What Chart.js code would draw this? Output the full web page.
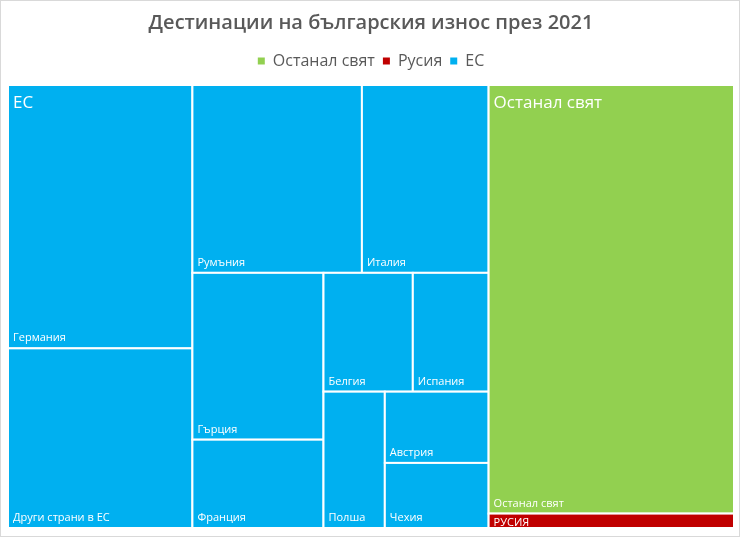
<!DOCTYPE html>
<html>
<head>
<meta charset="utf-8">
<script src="https://cdn.jsdelivr.net/npm/chart.js@4.4.1/dist/chart.umd.min.js"></script>
<style>
  html, body { margin: 0; padding: 0; background: #fff; }
  #wrap { width: 742px; height: 538px; }
</style>
</head>
<body>
<div id="wrap"><canvas id="treemap"></canvas></div>
<script>
// legend order as in the original chart
const groupNames = ['Останал свят', 'Русия', 'ЕС'];

// shares of Bulgarian exports 2021, %
const euCountries = ['Германия', 'Други страни в ЕС', 'Румъния', 'Италия', 'Гърция', 'Франция',
  'Белгия', 'Испания', 'Полша', 'Австрия', 'Чехия'];
const euValues = [15.1, 10.3, 9.9, 7.4, 6.8, 3.6, 3.3, 2.8, 2.6, 2.3, 2.1];
const restCountries = ['Останал свят'];
const restValues = [32.7];
const russiaCountries = ['РУСИЯ'];
const russiaValues = [1.1];

// how many items go into each strip of the squarified layout
const topStrips = [1, 1, 1];
const euStrips = [2, 2, 2, 2, 1, 1, 1];

const colors = { 'Останал свят': '#92D050', 'Русия': '#C00000', 'ЕС': '#00B0F0' };
const textGrey = '#595959';
const font = "'Open Sans', 'DejaVu Sans', sans-serif";

const sum = arr => arr.reduce((a, b) => a + b, 0);

// strips laid along the shorter side of what is left, sizes from the values
function layout(values, strips, rect, pxX, pxY) {
  let { x, y, w, h } = rect;
  let left = sum(values);
  const out = [];
  let i = 0;
  for (const n of strips) {
    const part = values.slice(i, i + n);
    const s = sum(part);
    if (w * pxX >= h * pxY) {
      const cw = w * s / left;
      let cy = y;
      part.forEach(v => { const ch = h * v / s; out.push({ x, y: cy, w: cw, h: ch }); cy += ch; });
      x += cw; w -= cw;
    } else {
      const rh = h * s / left;
      let cx = x;
      part.forEach(v => { const rw = w * v / s; out.push({ x: cx, y, w: rw, h: rh }); cx += rw; });
      y += rh; h -= rh;
    }
    left -= s;
    i += n;
  }
  return out;
}

const chartBorder = {
  id: 'chartBorder',
  beforeDraw(chart) {
    const ctx = chart.ctx;
    ctx.save();
    ctx.strokeStyle = '#D9D9D9';
    ctx.lineWidth = 1;
    ctx.strokeRect(0.5, 0.5, 739, 536);
    ctx.restore();
  }
};

const treemapPlugin = {
  id: 'treemapCells',
  afterDatasetsDraw(chart) {
    const { ctx, chartArea: area } = chart;
    const xs = chart.scales.x, ys = chart.scales.y;
    const pxX = area.width / 100, pxY = area.height / 100;

    const groups = [
      { name: 'ЕС', labels: euCountries, values: euValues, strips: euStrips },
      { name: 'Останал свят', labels: restCountries, values: restValues, strips: [1] },
      { name: 'Русия', labels: russiaCountries, values: russiaValues, strips: [1] }
    ];
    const groupRects = layout(groups.map(g => sum(g.values)), topStrips, { x: 0, y: 0, w: 100, h: 100 }, pxX, pxY);

    const toPx = r => {
      const l = xs.getPixelForValue(r.x), rr = xs.getPixelForValue(r.x + r.w);
      const t = ys.getPixelForValue(r.y), b = ys.getPixelForValue(r.y + r.h);
      return { l, t, w: rr - l, h: b - t };
    };

    ctx.save();
    groups.forEach((g, gi) => {
      const cells = layout(g.values, g.strips, groupRects[gi], pxX, pxY);
      cells.forEach((c, ci) => {
        const p = toPx(c);
        ctx.fillStyle = colors[g.name];
        ctx.fillRect(p.l, p.t, p.w, p.h);
        ctx.strokeStyle = '#FFFFFF';
        ctx.lineWidth = 2;
        ctx.strokeRect(p.l, p.t, p.w, p.h);

        // leaf label: bottom-left, or top-left when the cell is too flat
        ctx.save();
        ctx.beginPath();
        ctx.rect(p.l + 1, p.t + 1, p.w - 2, p.h - 2);
        ctx.clip();
        ctx.fillStyle = '#FFFFFF';
        ctx.font = '11px ' + font;
        ctx.textBaseline = 'alphabetic';
        ctx.textAlign = 'left';
        const ty = p.h < 24 ? p.t + 12 : p.t + p.h - 7;
        ctx.fillText(g.labels[ci], p.l + 5, ty);
        ctx.restore();
      });

      const gp = toPx(groupRects[gi]);
      if (gp.h > 40) {
        ctx.fillStyle = '#FFFFFF';
        ctx.font = '17px ' + font;
        ctx.textBaseline = 'alphabetic';
        ctx.textAlign = 'left';
        ctx.fillText(g.name, gp.l + 5, gp.t + 23);
      }
    });
    ctx.restore();
  }
};

new Chart(document.getElementById('treemap'), {
  type: 'scatter',
  data: {
    datasets: groupNames.map(name => ({
      label: name,
      data: [],
      backgroundColor: colors[name],
      borderColor: colors[name],
      borderWidth: 0
    }))
  },
  options: {
    responsive: true,
    maintainAspectRatio: false,
    animation: false,
    layout: { padding: { left: 8, right: 8, top: 0, bottom: 10 } },
    scales: {
      x: {
        type: 'linear', position: 'top', min: 0, max: 100,
        ticks: { display: false },
        grid: { display: false, drawTicks: true, tickLength: 6 },
        border: { display: false }
      },
      y: {
        type: 'linear', display: false, reverse: true, min: 0, max: 100
      }
    },
    plugins: {
      title: {
        display: true,
        text: 'Дестинации на българския износ през 2021',
        color: textGrey,
        font: { family: font, size: 20, weight: '600' },
        padding: { top: 11, bottom: 10 }
      },
      legend: {
        display: true,
        position: 'top',
        labels: {
          color: textGrey,
          font: { family: font, size: 16 },
          boxWidth: 7,
          boxHeight: 7,
          padding: 8
        }
      },
      tooltip: { enabled: false }
    }
  },
  plugins: [chartBorder, treemapPlugin]
});
</script>
</body>
</html>
